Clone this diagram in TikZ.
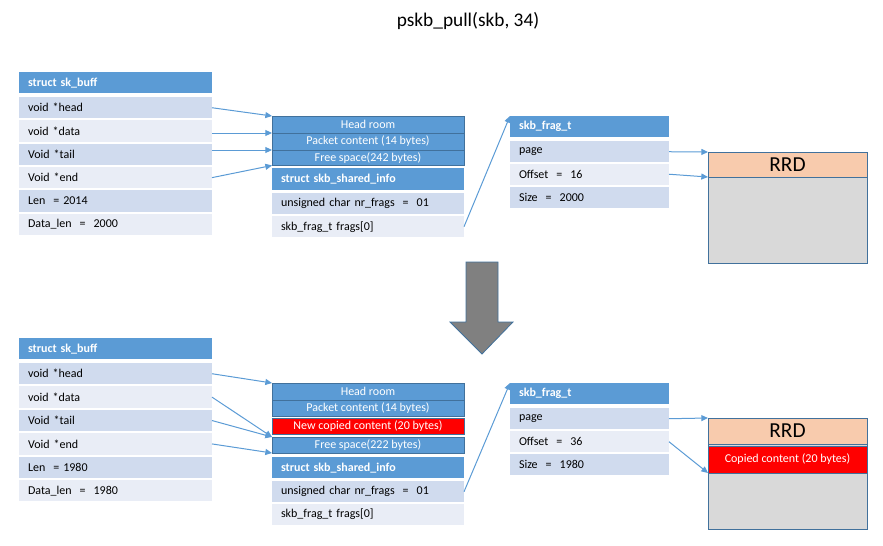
\documentclass[tikz,border=0pt]{standalone}
\usepackage{fontspec}
\setmainfont{Carlito}
\usetikzlibrary{arrows.meta}

\definecolor{hdblue}{HTML}{5B9BD5}
\definecolor{rowdark}{HTML}{D0DBEE}
\definecolor{rowlight}{HTML}{E9EDF6}
\definecolor{edgeblue}{HTML}{41719C}
\definecolor{peach}{HTML}{F8CBAD}
\definecolor{bodygrey}{HTML}{D9D9D9}

\begin{document}
\begin{tikzpicture}[x=0.75pt, y=-0.75pt,
	every node/.style={inner sep=0pt, outer sep=0pt, anchor=north west, font=\fontsize{9}{11}\selectfont},
	lcell/.style={text width=131.25pt, inner xsep=6.75pt, minimum height=16.1pt, align=left},
	mcell/.style={text width=130.5pt, inner xsep=6.75pt, minimum height=16.1pt, align=left},
	fcell/.style={text width=105.75pt, inner xsep=6.75pt, minimum height=16.1pt, align=left},
	hdr/.style={fill=hdblue, text=white, font=\fontsize{9}{11}\selectfont\bfseries},
	dark/.style={fill=rowdark},
	light/.style={fill=rowlight},
	block/.style={draw=edgeblue, line width=0.6pt, fill=hdblue, text=white, minimum width=144pt, align=center},
	ptr/.style={draw=hdblue, line width=0.75pt, -{Triangle[length=5pt, width=4.5pt]}}]
		\useasboundingbox (0,0) rectangle (883,546);
		\node[anchor=center, font=\fontsize{14.5}{17}\selectfont] (title) at (468,21) {pskb\_pull(skb, 34)};
		% before the pull
		\node[lcell, hdr] (tskb) at (19,72) {struct sk\_buff};
		\node[lcell, dark] (thead) at (19,97) {void *head};
		\node[lcell, light] (tdata) at (19,120.3) {void *data};
		\node[lcell, dark] (ttail) at (19,143.6) {Void *tail};
		\node[lcell, light] (tend) at (19,166.9) {Void *end};
		\node[lcell, dark] (tlen) at (19,190.2) {Len \ = 2014};
		\node[lcell, light] (tdlen) at (19,213.5) {Data\_len \ = \ 2000};
		\node[block, minimum height=12.75pt] (throom) at (272,116) {Head room};
		\node[block, minimum height=12.75pt] (tpkt) at (272,133) {Packet content (14 bytes)};
		\node[block, minimum height=11.6pt] (tfree) at (272,150) {Free space(242 bytes)};
		\node[mcell, hdr, minimum height=16.5pt] (tshinfo) at (272,168) {struct skb\_shared\_info};
		\node[mcell, dark] (tnrfrags) at (272,193) {unsigned char nr\_frags \ = \ 01};
		\node[mcell, light] (tfrags) at (272,216) {skb\_frag\_t frags[0]};
		\node[fcell, hdr] (tfragt) at (510,116) {skb\_frag\_t};
		\node[fcell, dark] (tpage) at (510,141) {page};
		\node[fcell, light] (toffset) at (510,163.5) {Offset \ = \ 16};
		\node[fcell, dark] (tsize) at (510,187) {Size \ = \ 2000};
		\node[draw=edgeblue, line width=0.6pt, fill=bodygrey, minimum width=119.25pt, minimum height=83.25pt] (trrd) at (708,152) {};
		\node[draw=edgeblue, line width=0.6pt, fill=peach, minimum width=119.25pt, minimum height=18.75pt, font=\fontsize{16}{19}\selectfont] (trrdhdr) at (708,152) {RRD};
		\draw[ptr] (thead.east) -- (throom.north west);
		\draw[ptr] (tdata.east |- tpkt.north west) -- (tpkt.north west);
		\draw[ptr] (ttail.east |- tfree.north west) -- (tfree.north west);
		\draw[ptr] (tend.east) -- (tfree.south west);
		\draw[ptr] (tfrags.east) -- (tfragt.north west);
		\draw[ptr] (tpage.east) -- (trrd.north west);
		\draw[ptr] (toffset.east) -- (trrdhdr.south west);
		% the big arrow
		\draw[draw=edgeblue, line width=0.6pt, fill=gray] (466,262) -- (498,262) -- (498,322) -- (513,322) -- (482,354) -- (450,322) -- (466,322) -- cycle;
		% after the pull
		\node[lcell, hdr] (bskb) at (19,338) {struct sk\_buff};
		\node[lcell, dark] (bhead) at (19,363) {void *head};
		\node[lcell, light] (bdata) at (19,386.4) {void *data};
		\node[lcell, dark] (btail) at (19,409.8) {Void *tail};
		\node[lcell, light] (bend) at (19,433.2) {Void *end};
		\node[lcell, dark] (blen) at (19,456.6) {Len \ = 1980};
		\node[lcell, light] (bdlen) at (19,480) {Data\_len \ = \ 1980};
		\node[block, minimum height=12.75pt] (bhroom) at (272,383) {Head room};
		\node[block, minimum height=12pt] (bpkt) at (272,400) {Packet content (14 bytes)};
		\node[block, fill=red, minimum height=12pt] (bnew) at (272,418) {New copied content (20 bytes)};
		\node[block, minimum height=12pt] (bfree) at (272,437) {Free space(222 bytes)};
		\node[mcell, hdr, minimum height=16pt] (bshinfo) at (272,457) {struct skb\_shared\_info};
		\node[mcell, dark] (bnrfrags) at (272,481) {unsigned char nr\_frags \ = \ 01};
		\node[mcell, light] (bfrags) at (272,503.5) {skb\_frag\_t frags[0]};
		\node[fcell, hdr] (bfragt) at (510,383) {skb\_frag\_t};
		\node[fcell, dark] (bpage) at (510,408) {page};
		\node[fcell, light] (boffset) at (510,431) {Offset \ = \ 36};
		\node[fcell, dark] (bsize) at (510,454) {Size \ = \ 1980};
		\node[draw=edgeblue, line width=0.6pt, fill=bodygrey, minimum width=119.25pt, minimum height=83.25pt] (brrd) at (708,418) {};
		\node[draw=edgeblue, line width=0.6pt, fill=peach, minimum width=119.25pt, minimum height=19.5pt, font=\fontsize{16}{19}\selectfont] (brrdhdr) at (708,418) {RRD};
		\node[draw=edgeblue, line width=0.6pt, fill=red, text=white, minimum width=119.25pt, minimum height=20.25pt, align=center] (bcopied) at (708,446) {Copied content (20 bytes)};
		\draw[ptr] (bhead.east) -- (bhroom.north west);
		\draw[ptr] (bdata.east) -- (bfree.north west);
		\draw[ptr] (btail.east) -- (bfree.north west);
		\draw[ptr] (bend.east) -- (bfree.south west);
		\draw[ptr] (bnrfrags.east) -- (bfragt.north west);
		\draw[ptr] (bpage.east) -- (brrd.north west);
		\draw[ptr] (boffset.east) -- (bcopied.south west);
	\end{tikzpicture}
\end{document}
